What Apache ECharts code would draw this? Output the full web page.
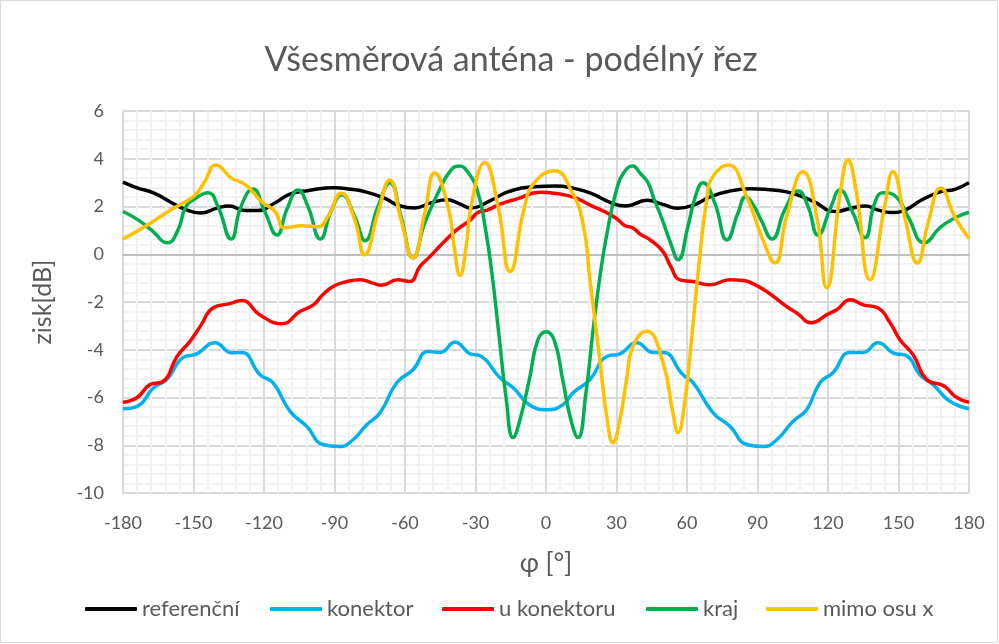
<!DOCTYPE html>
<html>
<head>
<meta charset="utf-8">
<script src="https://cdn.jsdelivr.net/npm/echarts@6/dist/echarts.min.js"></script>
<style>
  html, body { margin: 0; padding: 0; background: #ffffff; }
  #chart { width: 999px; height: 644px; }
</style>
</head>
<body>
<div id="chart"></div>
<script>
// Angle ticks and gain range
const angleTicks = [-180, -150, -120, -90, -60, -30, 0, 30, 60, 90, 120, 150, 180];
const gainTicks = [-10, -8, -6, -4, -2, 0, 2, 4, 6];

// Measured gain [angle in degrees, gain in dB] for each antenna position
const referencni = [
  [-180, 3.02], [-174, 2.78], [-167, 2.57], [-160, 2.2], [-154, 1.9], [-147, 1.73],
  [-140, 1.93], [-135, 2.02], [-128, 1.83], [-123, 1.83], [-115, 2.17], [-109, 2.52],
  [-101, 2.67], [-90, 2.79], [-83, 2.72], [-77, 2.62], [-69, 2.36], [-62, 2.02],
  [-56, 1.94], [-49, 2.15], [-42, 2.28], [-37, 2.12], [-32, 1.94], [-23, 2.28],
  [-16, 2.62], [-5, 2.83], [4, 2.86], [12, 2.76], [19, 2.56], [28, 2.14],
  [34, 2.02], [43, 2.26], [50, 2.08], [56, 1.93], [63, 2.07], [70, 2.41],
  [77, 2.62], [87, 2.74], [99, 2.67], [106, 2.52], [114, 2.2], [123, 1.79],
  [130, 1.93], [136, 2.02], [141, 1.86], [147, 1.75], [153, 1.86], [160, 2.28],
  [168, 2.62], [174, 2.72], [180, 3.0]
];

const konektor = [
  [-180, -6.47], [-174, -6.37], [-167, -5.59], [-161.4, -5.25], [-154.5, -4.33], [-148.6, -4.17],
  [-140.9, -3.71], [-133.7, -4.13], [-129.5, -4.11], [-121.7, -5.05], [-116.2, -5.38], [-108.9, -6.58],
  [-101.8, -7.21], [-94.9, -7.97], [-87.7, -8.05], [-82.1, -7.77], [-76.3, -7.14], [-70.6, -6.64],
  [-63.5, -5.38], [-56.6, -4.84], [-50.2, -4.07], [-45.1, -4.11], [-38.7, -3.69], [-32.3, -4.17],
  [-28.1, -4.25], [-19.6, -5.17], [-14, -5.59], [-6.1, -6.37], [0.3, -6.51], [7.2, -6.3],
  [11.5, -5.8], [18.7, -5.25], [25.8, -4.28], [31.5, -4.17], [38.6, -3.71], [45.5, -4.11],
  [49.8, -4.11], [58.3, -5.05], [62.6, -5.38], [71.1, -6.64], [78.3, -7.21], [85.4, -7.97],
  [92.3, -8.05], [98.2, -7.77], [105.1, -7.0], [110.9, -6.51], [116.6, -5.38], [122.1, -4.96],
  [129.4, -4.11], [134.9, -4.11], [141.3, -3.71], [147.7, -4.13], [153.5, -4.25], [159.1, -5.05],
  [164.7, -5.46], [171.9, -6.16], [180, -6.47]
];

const uKonektoru = [
  [-180, -6.2], [-174, -6.0], [-168.5, -5.46], [-163, -5.33], [-157, -4.28], [-151.5, -3.65],
  [-147, -3.0], [-141.7, -2.25], [-134.5, -2.07], [-129.5, -1.94], [-121.7, -2.54], [-112.5, -2.91],
  [-104.7, -2.4], [-99, -2.12], [-95, -1.7], [-90.6, -1.35], [-85, -1.15], [-79, -1.07],
  [-74, -1.2], [-70, -1.3], [-63, -1.07], [-58, -1.14], [-53.6, -0.51], [-49.4, -0.1],
  [-43.8, 0.48], [-38, 1.02], [-32, 1.45], [-29, 1.75], [-25, 1.85], [-19.5, 2.1],
  [-12, 2.33], [-2.5, 2.6], [5, 2.53], [12, 2.38], [19, 2.05], [25, 1.78],
  [30, 1.5], [33.5, 1.2], [37, 1.1], [40, 0.85], [44.3, 0.6], [49.8, 0.11],
  [53, -0.5], [57, -1.07], [62.6, -1.14], [69.8, -1.28], [78.3, -1.07], [84, -1.1],
  [88.2, -1.24], [93.9, -1.56], [102.4, -2.19], [106.7, -2.46], [113, -2.87], [119.4, -2.54],
  [124, -2.3], [129.4, -1.91], [135, -2.12], [141.3, -2.25], [146.4, -2.87], [150.6, -3.58],
  [156.2, -4.21], [162, -5.25], [169, -5.5], [174.8, -6.0], [180, -6.2]
];

const kraj = [
  [-180, 1.79], [-173.6, 1.44], [-168, 1.02], [-161, 0.48], [-156.6, 1.02], [-153.2, 2.0],
  [-149, 2.35], [-143.8, 2.58], [-139.6, 2.0], [-134, 0.64], [-129.8, 2.0], [-124.7, 2.73],
  [-119.7, 1.79], [-114.5, 0.81], [-110.2, 1.9], [-105.5, 2.69], [-101.3, 2.0], [-96, 0.64],
  [-91.5, 1.79], [-87, 2.49], [-81.4, 1.58], [-77, 0.57], [-71.5, 2.0], [-66.4, 3.0],
  [-61.7, 1.58], [-56.6, -0.15], [-51.6, 1.31], [-46, 2.56], [-41, 3.45], [-37, 3.7],
  [-33, 3.4], [-29, 2.6], [-26, 1.2], [-23, -0.8], [-20, -3.4], [-17, -6.0],
  [-14, -7.68], [-11, -6.9], [-7, -5.2], [-3.5, -3.6], [0, -3.25], [3.5, -3.6],
  [7, -5.2], [10.5, -6.9], [13.6, -7.68], [17, -5.8], [20, -3.2], [23, -0.9],
  [26, 0.9], [30, 2.7], [33, 3.4], [37, 3.7], [40, 3.4], [43.4, 3.0],
  [46, 2.3], [49, 1.58], [53, 0.48], [56.2, -0.23], [60.4, 1.16], [63.5, 2.4],
  [66.8, 3.0], [71.8, 2.15], [77, 0.6], [81.7, 1.73], [85, 2.41], [88, 2.1],
  [91.5, 1.44], [96.2, 0.64], [101.6, 1.86], [107.3, 2.65], [111.5, 2.0], [115.7, 0.81],
  [121.3, 2.0], [125, 2.69], [130.6, 1.73], [135.7, 0.69], [139.9, 2.15], [143.4, 2.58],
  [149, 2.41], [154, 1.58], [161, 0.48], [168, 1.15], [175.3, 1.58], [180, 1.76]
];

const mimoOsuX = [
  [-180, 0.64], [-170.8, 1.15], [-159.6, 1.86], [-150, 2.42], [-145.5, 3.0], [-140.4, 3.74],
  [-134, 3.2], [-127.7, 2.9], [-121, 2.2], [-115.3, 1.79], [-111.2, 1.1], [-104, 1.19],
  [-97, 1.15], [-92.8, 1.58], [-87.2, 2.56], [-81.4, 1.44], [-77.2, -0.02], [-71.5, 1.73],
  [-66.5, 3.11], [-61.7, 1.44], [-56.6, -0.15], [-51.6, 1.73], [-47.4, 3.4], [-41.7, 2.0],
  [-38.9, 0.18], [-36.6, -0.88], [-34, 0.3], [-31.9, 2.0], [-26, 3.84], [-20.4, 2.0],
  [-15.3, -0.72], [-9.1, 2.0], [-4.9, 3.0], [3.7, 3.5], [10.6, 2.69], [15.7, 1.31],
  [18.7, -1.07], [23, -4.5], [26, -6.9], [28.5, -7.9], [31.5, -6.9], [34.3, -5.25],
  [37, -3.86], [42.8, -3.23], [49.8, -4.55], [54, -6.64], [56.2, -7.47], [59, -6.2],
  [62, -3.5], [65, -0.5], [68.4, 2.28], [71, 3.25], [77.5, 3.74], [85.4, 2.41],
  [92.3, 0.6], [97.4, -0.36], [102.4, 1.58], [109.4, 3.46], [115.2, 1.58], [119.4, -1.4],
  [125.4, 2.69], [128.5, 3.95], [131.9, 2.69], [137.9, -1.07], [144.1, 2.0], [147.6, 3.46],
  [152.6, 1.58], [158.1, -0.37], [162.6, 1.31], [168, 2.78], [173.9, 1.58], [180, 0.66]
];

const seriesNames = ['referenční', 'konektor', 'u konektoru', 'kraj', 'mimo osu x'];
const seriesColors = ['#000000', '#00b0f0', '#ff0000', '#00b050', '#ffc000'];
const seriesData = [referencni, konektor, uKonektoru, kraj, mimoOsuX];

// Left edge of each legend entry along the bottom row
const legendLeft = [85, 270, 442, 646, 766];

const textColor = '#595959';
const fontFamily = 'Lato, "Noto Sans", sans-serif';

const chart = echarts.init(document.getElementById('chart'), null, { renderer: 'canvas' });

chart.setOption({
  animation: false,
  backgroundColor: '#ffffff',
  title: {
    text: 'Všesměrová anténa - podélný řez',
    left: 506,
    textAlign: 'center',
    top: 38,
    textStyle: { color: textColor, fontSize: 34, fontWeight: 'normal', fontFamily: fontFamily }
  },
  grid: {
    left: 123, right: 30, top: 111, bottom: 151,
    show: true, borderColor: '#d9d9d9', borderWidth: 1.5, backgroundColor: 'transparent'
  },
  legend: seriesNames.map((name, i) => ({
    data: [{ name: name, icon: 'roundRect' }],
    left: legendLeft[i],
    top: 598,
    padding: 0,
    itemWidth: 52,
    itemHeight: 4,
    textStyle: { color: textColor, fontSize: 22, fontFamily: fontFamily }
  })),
  xAxis: {
    type: 'value',
    min: angleTicks[0],
    max: angleTicks[angleTicks.length - 1],
    interval: 30,
    name: 'φ [°]',
    nameLocation: 'middle',
    nameGap: 58,
    nameTextStyle: { color: textColor, fontSize: 26, fontFamily: fontFamily },
    axisLine: { show: true, lineStyle: { color: '#bfbfbf', width: 2 } },
    axisTick: { show: false },
    minorTick: { show: true, splitNumber: 5, length: 0 },
    axisLabel: { color: textColor, fontSize: 18, fontFamily: fontFamily, margin: 21 },
    splitLine: { show: true, lineStyle: { color: '#d9d9d9', width: 2 } },
    minorSplitLine: { show: true, lineStyle: { color: '#f2f2f2', width: 2 } }
  },
  yAxis: {
    type: 'value',
    min: gainTicks[0],
    max: gainTicks[gainTicks.length - 1],
    interval: 2,
    name: 'zisk[dB]',
    nameLocation: 'middle',
    nameGap: 68,
    nameRotate: 90,
    nameTextStyle: { color: textColor, fontSize: 25, fontFamily: fontFamily },
    axisLine: { show: true, lineStyle: { color: '#d9d9d9', width: 2 } },
    axisTick: { show: false },
    minorTick: { show: true, splitNumber: 5, length: 0 },
    axisLabel: { color: textColor, fontSize: 18, fontFamily: fontFamily, margin: 19 },
    splitLine: { show: true, lineStyle: { color: '#d9d9d9', width: 2 } },
    minorSplitLine: { show: true, lineStyle: { color: '#f2f2f2', width: 2 } }
  },
  series: seriesNames.map((name, i) => ({
    name: name,
    type: 'line',
    data: seriesData[i],
    smooth: 0.5,
    symbol: 'none',
    color: seriesColors[i],
    lineStyle: { color: seriesColors[i], width: 3.5 },
    z: 2 + i
  })),
  graphic: [{
    type: 'rect',
    shape: { x: 0.5, y: 0.5, width: 997, height: 642 },
    style: { fill: 'none', stroke: '#d9d9d9', lineWidth: 1 },
    silent: true
  }]
});
</script>
</body>
</html>
